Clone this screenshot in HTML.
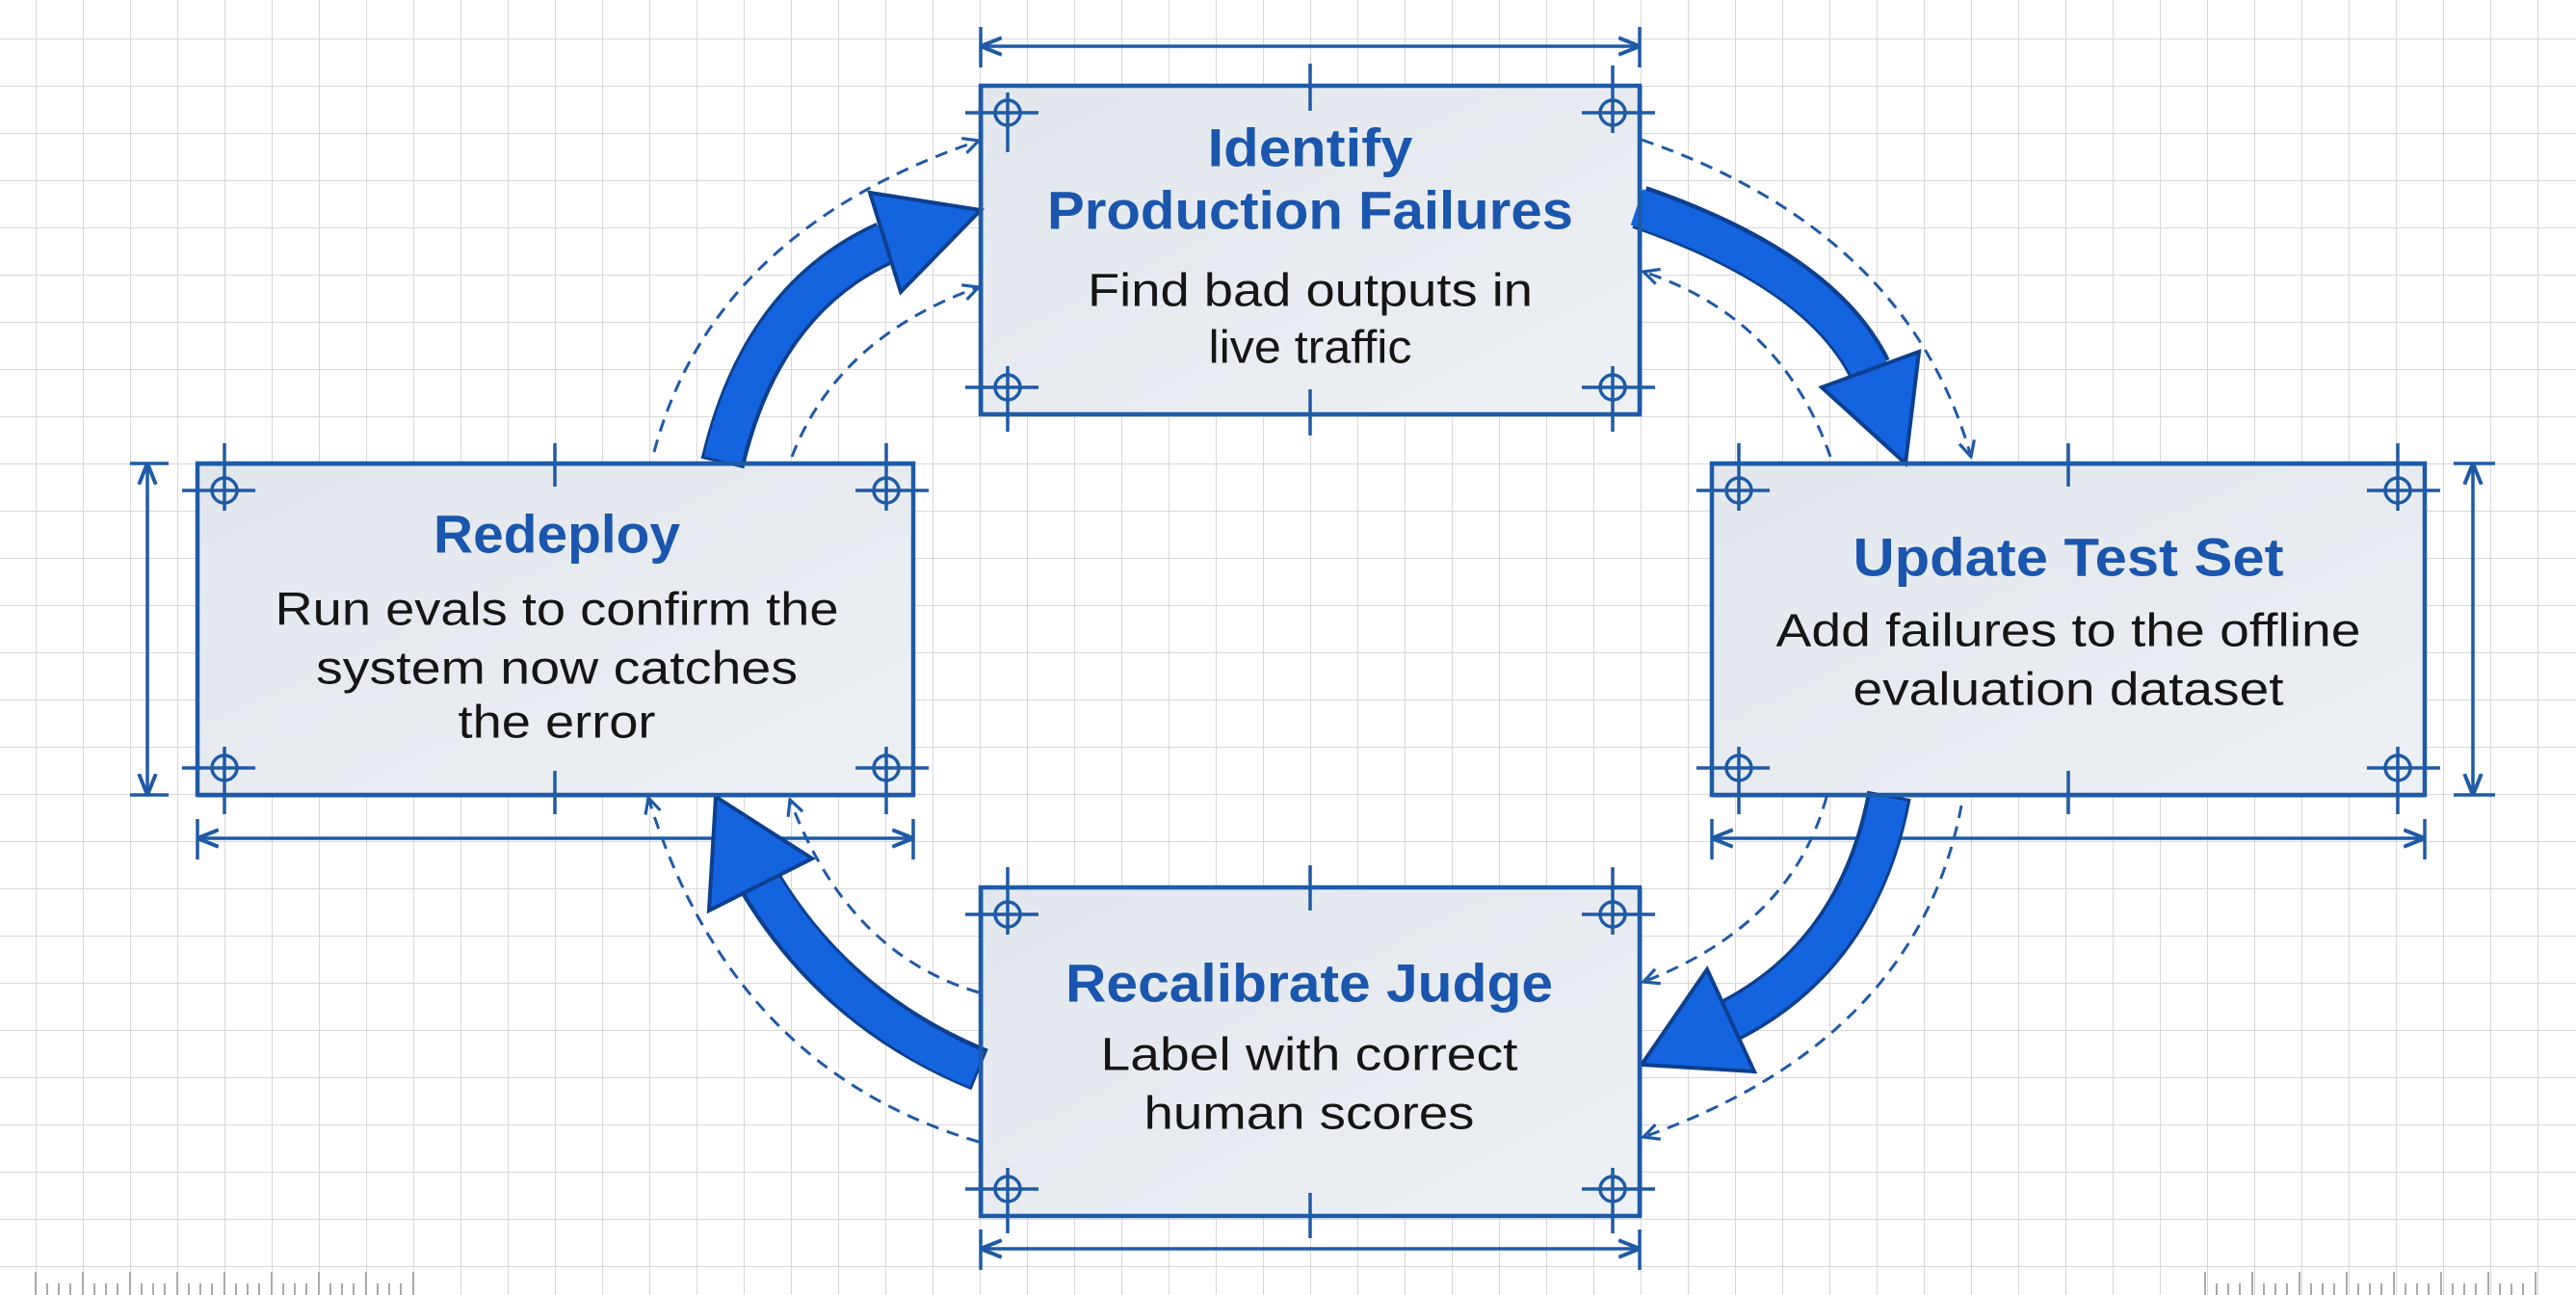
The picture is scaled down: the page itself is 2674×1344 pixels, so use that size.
<!DOCTYPE html>
<html><head><meta charset="utf-8"><style>
html,body{margin:0;padding:0;background:#fff;}
svg{display:block;}
.t{font-family:"Liberation Sans",sans-serif;font-weight:bold;fill:#1a56ad;font-size:56px;}
.b{font-family:"Liberation Sans",sans-serif;fill:#151515;font-size:48px;}
</style></head><body>
<svg width="2674" height="1344" viewBox="0 0 2674 1344" xmlns="http://www.w3.org/2000/svg">
<defs>
<pattern id="g" x="37" y="40" width="49" height="49" patternUnits="userSpaceOnUse">
<path d="M0 0H49M0 0V49" stroke="#d8d8d8" stroke-width="2" fill="none"/>
</pattern>
<linearGradient id="bf" x1="0" y1="0" x2="1" y2="1">
<stop offset="0" stop-color="#e2e7ee"/><stop offset="1" stop-color="#edf0f4"/>
</linearGradient>
<marker id="da" viewBox="0 0 10 10" refX="9" refY="5" markerWidth="20" markerHeight="20" markerUnits="userSpaceOnUse" orient="auto">
<path d="M1 1L9 5L1 9" fill="none" stroke="#1f5aa6" stroke-width="1.6"/>
</marker>
<marker id="dim" viewBox="0 0 10 10" refX="9" refY="5" markerWidth="22" markerHeight="22" markerUnits="userSpaceOnUse" orient="auto-start-reverse">
<path d="M0 1L10 5L0 9" fill="none" stroke="#1f5aa6" stroke-width="1.8"/>
</marker>
</defs>
<rect width="2674" height="1344" fill="#fff"/>
<rect width="2674" height="1344" fill="url(#g)"/>

<!-- rulers -->
<g stroke="#aaa" stroke-width="2">
<path d="M37 1320V1344M86 1320V1344M135 1320V1344M184 1320V1344M233 1320V1344M282 1320V1344M331 1320V1344M380 1320V1344M429 1320V1344"/>
<path d="M49 1332V1344M61 1332V1344M73 1332V1344M98 1332V1344M110 1332V1344M122 1332V1344M147 1332V1344M159 1332V1344M171 1332V1344M196 1332V1344M208 1332V1344M220 1332V1344M245 1332V1344M257 1332V1344M269 1332V1344M294 1332V1344M306 1332V1344M318 1332V1344M343 1332V1344M355 1332V1344M367 1332V1344M392 1332V1344M404 1332V1344M416 1332V1344"/>
<path d="M2289 1320V1344M2338 1320V1344M2387 1320V1344M2436 1320V1344M2485 1320V1344M2534 1320V1344M2583 1320V1344M2632 1320V1344"/>
<path d="M2301 1332V1344M2313 1332V1344M2325 1332V1344M2350 1332V1344M2362 1332V1344M2374 1332V1344M2399 1332V1344M2411 1332V1344M2423 1332V1344M2448 1332V1344M2460 1332V1344M2472 1332V1344M2497 1332V1344M2509 1332V1344M2521 1332V1344M2546 1332V1344M2558 1332V1344M2570 1332V1344M2595 1332V1344M2607 1332V1344M2619 1332V1344"/>
</g>

<!-- dashed arrows -->
<g fill="none" stroke="#1f5aa6" stroke-width="3" stroke-dasharray="13 9" marker-end="url(#da)">
<path d="M679 469 Q740 240 1016 146"/>
<path d="M822 474 Q870 350 1016 298"/>
<path d="M1704 145 Q1980 240 2046 474"/>
<path d="M1900 474 Q1850 330 1706 282"/>
<path d="M1896 827 Q1860 960 1706 1019"/>
<path d="M2036 836 Q1990 1080 1706 1180"/>
<path d="M1016 1185 Q760 1110 673 828"/>
<path d="M1016 1030 Q880 990 820 830"/>
</g>

<!-- boxes -->
<g fill="url(#bf)" stroke="#1f5aa6" stroke-width="4.5">
<rect x="1018" y="89" width="684" height="341"/>
<rect x="205" y="481" width="743" height="344"/>
<rect x="1777" y="481" width="740" height="344"/>
<rect x="1018" y="921" width="684" height="341"/>
</g>

<!-- crosshairs & ticks -->
<g fill="none" stroke="#1f5aa6" stroke-width="3.5">
<circle cx="1046" cy="117" r="13"/><path d="M1002 117H1078M1046 96V158"/>
<circle cx="1674" cy="117" r="13"/><path d="M1642 117H1718M1674 68V138"/>
<circle cx="1046" cy="402" r="13"/><path d="M1002 402H1078M1046 380V448"/>
<circle cx="1674" cy="402" r="13"/><path d="M1642 402H1718M1674 380V448"/>
<path d="M1360 66V115M1360 404V452"/>
<circle cx="233" cy="509" r="13"/><path d="M189 509H265M233 460V530"/>
<circle cx="920" cy="509" r="13"/><path d="M888 509H964M920 460V530"/>
<circle cx="233" cy="797" r="13"/><path d="M189 797H265M233 775V845"/>
<circle cx="920" cy="797" r="13"/><path d="M888 797H964M920 775V845"/>
<path d="M576 460V505M576 800V845"/>
<circle cx="1805" cy="509" r="13"/><path d="M1761 509H1837M1805 460V530"/>
<circle cx="2489" cy="509" r="13"/><path d="M2457 509H2533M2489 460V530"/>
<circle cx="1805" cy="797" r="13"/><path d="M1761 797H1837M1805 775V845"/>
<circle cx="2489" cy="797" r="13"/><path d="M2457 797H2533M2489 775V845"/>
<path d="M2147 460V505M2147 800V845"/>
<circle cx="1046" cy="949" r="13"/><path d="M1002 949H1078M1046 900V970"/>
<circle cx="1674" cy="949" r="13"/><path d="M1642 949H1718M1674 900V970"/>
<circle cx="1046" cy="1234" r="13"/><path d="M1002 1234H1078M1046 1212V1280"/>
<circle cx="1674" cy="1234" r="13"/><path d="M1642 1234H1718M1674 1212V1280"/>
<path d="M1360 898V945M1360 1238V1285"/>
</g>

<!-- dimension lines -->
<g fill="none" stroke="#1f5aa6" stroke-width="3.5">
<path d="M1020 48H1700" marker-start="url(#dim)" marker-end="url(#dim)"/>
<path d="M1018 28V70M1702 28V70"/>
<path d="M153 483V823" marker-start="url(#dim)" marker-end="url(#dim)"/>
<path d="M135 481H175M135 825H175"/>
<path d="M207 870H946" marker-start="url(#dim)" marker-end="url(#dim)"/>
<path d="M205 850V892M948 850V892"/>
<path d="M2567 483V823" marker-start="url(#dim)" marker-end="url(#dim)"/>
<path d="M2547 481H2590M2547 825H2590"/>
<path d="M1779 870H2515" marker-start="url(#dim)" marker-end="url(#dim)"/>
<path d="M1777 850V892M2517 850V892"/>
<path d="M1020 1296H1700" marker-start="url(#dim)" marker-end="url(#dim)"/>
<path d="M1018 1276V1318M1702 1276V1318"/>
</g>

<!-- big arrows -->
<g fill="none" stroke="#0d3f8f" stroke-width="46" stroke-linecap="butt">
<path d="M750 481 Q790 310 919 252"/>
<path d="M1702 215 Q1890 280 1941 383"/>
<path d="M1961 825 Q1930 990 1796 1059"/>
<path d="M1017 1110 Q870 1050 790 918"/>
</g>
<g fill="none" stroke="#1464e0" stroke-width="39" stroke-linecap="butt">
<path d="M750 478 Q790 310 921 251"/>
<path d="M1699 215 Q1890 280 1942 386"/>
<path d="M1961 828 Q1930 990 1794 1060"/>
<path d="M1014 1110 Q870 1050 789 915"/>
</g>
<g fill="#1464e0" stroke="#0d3f8f" stroke-width="4" stroke-linejoin="miter">
<polygon points="1018,218 935,303 903,200"/>
<polygon points="1978,481 1992,365 1891,402"/>
<polygon points="1704,1105 1772,1006 1821,1112"/>
<polygon points="743,827 736,945 843,891"/>
</g>
<rect x="1016" y="89" width="4.5" height="341" fill="#1f5aa6"/>
<rect x="1700" y="89" width="4.5" height="341" fill="#1f5aa6"/>
<rect x="205" y="479" width="743" height="4.5" fill="#1f5aa6"/>
<rect x="1777" y="479" width="740" height="4.5" fill="#1f5aa6"/>
<rect x="1777" y="823" width="740" height="4.5" fill="#1f5aa6"/>
<rect x="1700" y="921" width="4.5" height="341" fill="#1f5aa6"/>
<rect x="1016" y="921" width="4.5" height="341" fill="#1f5aa6"/>
<rect x="205" y="823" width="743" height="4.5" fill="#1f5aa6"/>

<!-- text -->
<g text-anchor="middle" dominant-baseline="central">
<text class="t" x="1360" y="153" textLength="213" lengthAdjust="spacingAndGlyphs">Identify</text>
<text class="t" x="1360" y="218" textLength="546" lengthAdjust="spacingAndGlyphs">Production Failures</text>
<text class="b" x="1360" y="302" textLength="462" lengthAdjust="spacingAndGlyphs">Find bad outputs in</text>
<text class="b" x="1360" y="361" textLength="211" lengthAdjust="spacingAndGlyphs">live traffic</text>

<text class="t" x="578" y="554" textLength="256" lengthAdjust="spacingAndGlyphs">Redeploy</text>
<text class="b" x="578" y="633" textLength="585" lengthAdjust="spacingAndGlyphs">Run evals to confirm the</text>
<text class="b" x="578" y="694" textLength="500" lengthAdjust="spacingAndGlyphs">system now catches</text>
<text class="b" x="578" y="750" textLength="205" lengthAdjust="spacingAndGlyphs">the error</text>

<text class="t" x="2147" y="578" textLength="447" lengthAdjust="spacingAndGlyphs">Update Test Set</text>
<text class="b" x="2147" y="655" textLength="607" lengthAdjust="spacingAndGlyphs">Add failures to the offline</text>
<text class="b" x="2147" y="716" textLength="447" lengthAdjust="spacingAndGlyphs">evaluation dataset</text>

<text class="t" x="1359" y="1020" textLength="506" lengthAdjust="spacingAndGlyphs">Recalibrate Judge</text>
<text class="b" x="1359" y="1095" textLength="433" lengthAdjust="spacingAndGlyphs">Label with correct</text>
<text class="b" x="1359" y="1156" textLength="343" lengthAdjust="spacingAndGlyphs">human scores</text>
</g>
</svg>
</body></html>
